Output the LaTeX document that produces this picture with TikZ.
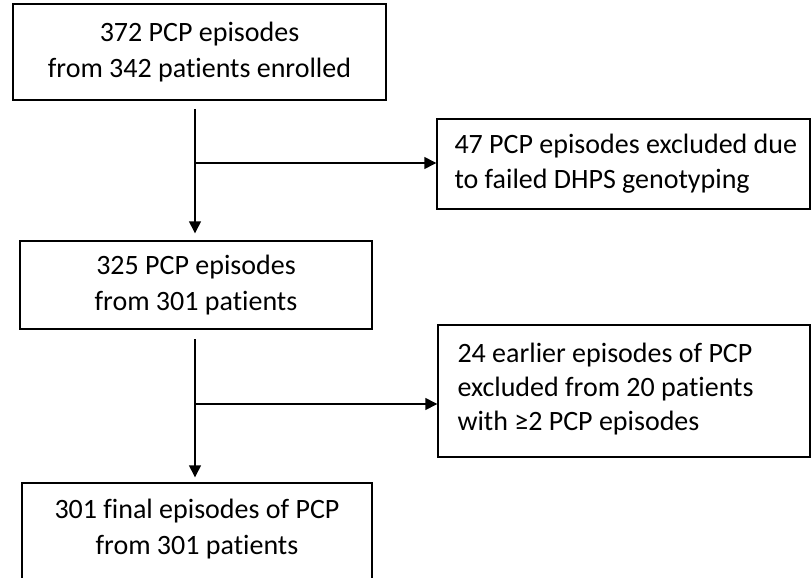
\documentclass[tikz,border=0pt]{standalone}
\usepackage{fontspec}
\setmainfont{Carlito}[Ligatures={NoCommon}]
\usetikzlibrary{arrows.meta}
\begin{document}
\begin{tikzpicture}[x=1pt,y=-1pt,
  box/.style={draw, line width=1.4pt, inner sep=0pt, align=center},
  txt/.style={anchor=west, inner sep=0pt, align=left},
  flow/.style={line width=1.4pt, -{Triangle[length=12pt,width=12pt]}},
  bigfont/.style={font=\fontsize{28}{36}\selectfont}]
\useasboundingbox (0,0) rectangle (812,578);
\node[box, bigfont, minimum width=373pt, minimum height=96pt] (b1) at (199.5,52) {372 PCP episodes\\from 342 patients enrolled};
\node[box, bigfont, minimum width=352pt, minimum height=88pt] (b2) at (196,285) {325 PCP episodes\\from 301 patients};
\node[box, minimum width=373pt, minimum height=90pt] (e1) at (623.5,164) {};
\node[txt, font=\fontsize{28}{35}\selectfont] (t1) at ([xshift=18pt]e1.west) {47 PCP episodes excluded due\\to failed DHPS genotyping};
\node[box, minimum width=372pt, minimum height=132pt] (e2) at (624,391) {};
\node[txt, font=\fontsize{28}{34}\selectfont] (t2) at ([xshift=20pt,yshift=2pt]e2.west) {24 earlier episodes of PCP\\excluded from 20 patients\\with ≥2 PCP episodes};
\node[box, minimum width=350pt, minimum height=100pt] (b3) at (197,533) {};
\node[bigfont, inner sep=0pt, align=center] (t3) at (197,529.5) {301 final episodes of PCP\\from 301 patients};
\coordinate (s1) at (195,109);
\coordinate (j1) at (195,163);
\coordinate (s2) at (195,339);
\coordinate (j2) at (195,404);
\draw[flow] (s1) -- ([yshift=7pt]s1 |- b2.north);
\draw[flow] (j1) -- (j1 -| e1.west);
\draw[flow] (s2) -- ([yshift=5pt]s2 |- b3.north);
\draw[flow] (j2) -- (j2 -| e2.west);
\end{tikzpicture}
\end{document}
